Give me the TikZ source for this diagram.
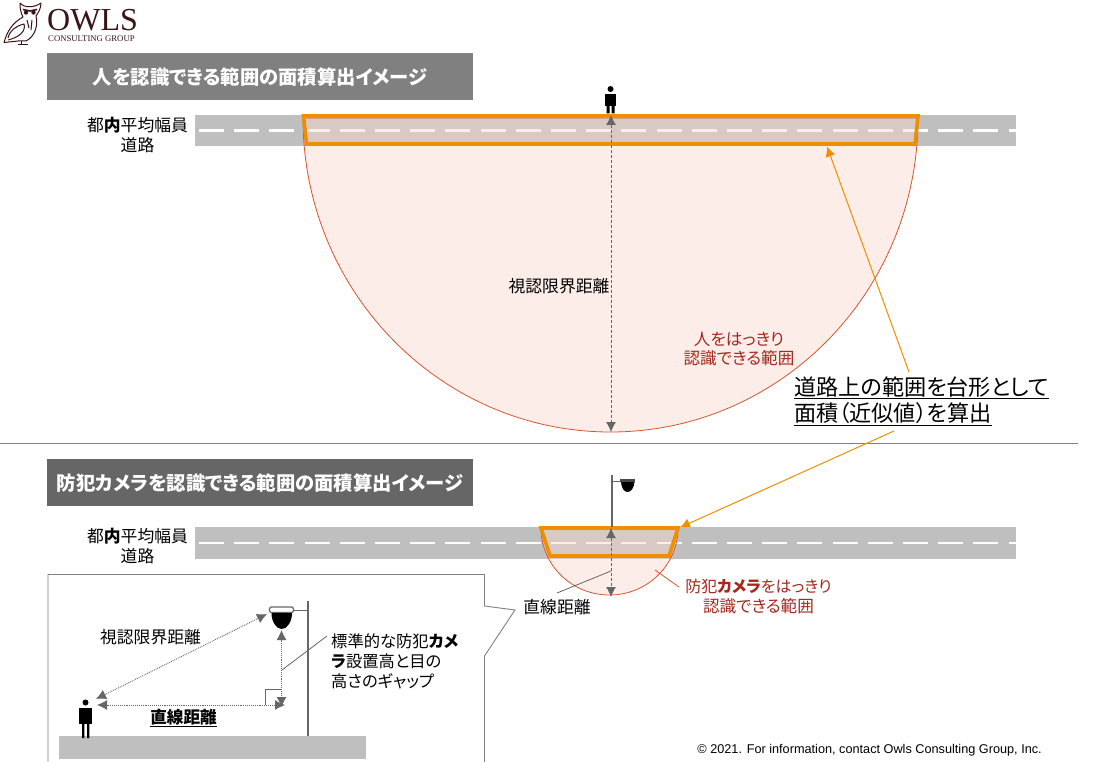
\documentclass[tikz,border=0pt]{standalone}
\usepackage{fontspec}
\setmainfont[RawFeature=+palt]{Noto Sans CJK JP}
\newfontfamily\latinsans{Liberation Sans}
\newfontfamily\latinserif{Liberation Serif}
\usetikzlibrary{arrows.meta}
\definecolor{roadgray}{HTML}{BFBFBF}
\definecolor{orangeline}{HTML}{EE8F00}
\definecolor{redline}{HTML}{D9552E}
\definecolor{redtext}{HTML}{A5281F}
\definecolor{pink}{HTML}{FAD8CD}
\definecolor{arrowgray}{HTML}{666666}
\definecolor{owlbrown}{HTML}{3A1414}
\tikzset{
  road/.style={fill=roadgray,draw=none},
  lane/.style={draw=white,line width=2.5pt,dash pattern=on 25pt off 10.2pt},
  zone/.style={fill=pink,fill opacity=.44,draw=redline,line width=.8pt},
  trap/.style={draw=orangeline,line width=3.6pt,miter limit=6},
  titlebox/.style={inner sep=0pt,text=white,font=\fontsize{19.3}{22}\selectfont\bfseries,minimum width=426pt,minimum height=47pt},
  lbl/.style={inner sep=0pt,align=center,font=\fontsize{16.8}{19.5}\selectfont,text=black},
  redlbl/.style={inner sep=0pt,align=center,font=\fontsize{16.6}{19.5}\selectfont,text=redtext},
  dim/.style={draw=arrowgray,line width=.9pt,densely dashed,{Latex[length=10pt,width=10pt]}-{Latex[length=10pt,width=10pt]}},
  dot/.style={draw=arrowgray,line width=.9pt,densely dotted,{Latex[length=10pt,width=10pt]}-{Latex[length=10pt,width=10pt]}},
  lead/.style={draw=arrowgray,line width=.8pt},
  callarrow/.style={draw=orangeline,line width=1pt,-{Latex[length=10pt,width=10pt]}},
}
\begin{document}
\begin{tikzpicture}[x=1pt,y=-1pt]
\useasboundingbox (0,0) rectangle (1096,762);
\fill[white] (0,0) rectangle (1096,762);
% logo
\begin{scope}[draw=owlbrown,line width=1pt,line join=round]
  \draw (20,3) .. controls (24,8) and (34,8) .. (41,3) .. controls (41,9) and (38,13) .. (36,16)
     .. controls (38,24) and (36,36) .. (26,41) -- (18,41) -- (4,42.5) .. controls (7,32) and (12,23) .. (23,17)
     .. controls (21,13) and (20,9) .. (20,3) -- cycle;
  \draw (8,38) .. controls (10,30) and (16,26) .. (24,24) .. controls (26,31) and (20,37) .. (8,40);
  \draw (21,41) -- (21,44) (18,44.5) -- (28,44.5);
  \draw (27,20) -- (29,28) (32,20) -- (31,30);
  \draw[line width=1.6pt] (23,9.5) -- (30,11) -- (37,9.5);
  \fill[owlbrown] (26,12.5) circle (2.2) (33.5,12.5) circle (2.2);
\end{scope}
\node[anchor=west,inner sep=0pt,text=owlbrown,font=\latinserif\fontsize{32}{32}\selectfont] (logoname) at (47,20) {OWLS};
\node[anchor=west,inner sep=0pt,text=owlbrown,font=\latinserif\fontsize{8.7}{9}\selectfont] (logosub) at (48,38.5) {CONSULTING GROUP};
% titles
\node[titlebox,fill=black!50,anchor=north west] (title1) at (47,53) {人を認識できる範囲の面積算出イメージ};
\node[titlebox,fill=arrowgray,anchor=north west] (title2) at (47,459) {防犯カメラを認識できる範囲の面積算出イメージ};
% separator
\draw[black!50,line width=.8pt] (0,443.5) -- (1078,443.5);
% upper road
\fill[road] (195,115) rectangle (1016,146.5);
\draw[lane] (199,130.5) -- (1016,130.5);
\draw[zone] (303,118) arc[start angle=180,end angle=360,x radius=307.5,y radius=-314] -- cycle;
\draw[trap] (303.5,116) -- (918,116) -- (915,144) -- (306.5,144) -- cycle;
\node[lbl] (roadlbl1) at (137.5,135) {都{\bfseries 内}平均幅員\\道路};
\coordinate (ufoot) at (611,432);
\coordinate (utop) at (611,115);
\draw[dim] (utop) -- (ufoot);
\node[lbl] (vislbl) at (559,286) {視認限界距離};
\node[redlbl] (red1) at (739,349) {人をはっきり\\認識できる範囲};
% person top
\fill[black] (610.5,89) circle (3);
\fill[black] (605,94) rectangle (616,106);
\fill[black] (606.5,106) rectangle (609.5,113.5) (611.5,106) rectangle (614.5,113.5);
% callout
\node[inner sep=0pt,align=left,anchor=west,text=black,font=\fontsize{22.15}{26}\selectfont] (calc) at (794,401) {\underline{道路上の範囲を台形として}\\\underline{面積（近似値）を算出}};
\coordinate (calcA) at (909,372);
\coordinate (calcB) at (894,431);
\coordinate (trapA) at (827,146.5);
\coordinate (trapB) at (680,527.5);
\draw[callarrow] (calcA) -- (trapA);
\draw[callarrow] (calcB) -- (trapB);
% lower road
\fill[road] (195,527) rectangle (1016,559);
\draw[lane] (199,543) -- (1016,543);
\draw[zone] (541,528) arc[start angle=180,end angle=360,x radius=68.5,y radius=-67] -- cycle;
\draw[trap] (541,528) -- (678,528) -- (669,556) -- (550,556) -- cycle;
\node[lbl] (roadlbl2) at (137.5,546) {都{\bfseries 内}平均幅員\\道路};
% lower pole and camera
\draw[arrowgray,line width=1.6pt] (612,475) -- (612,527);
\draw[arrowgray,line width=.8pt] (612,481) -- (621,481);
\fill[arrowgray!70!black] (620,478.5) rectangle (635,482);
\fill[black] (621,482) -- (634.5,482) .. controls (634,488) and (631,492) .. (627.5,492) .. controls (624,492) and (621.5,488) .. (621,482) -- cycle;
\coordinate (ltop) at (611,528);
\coordinate (lfoot) at (611,597);
\draw[dim] (ltop) -- (lfoot);
\coordinate (distmark) at (611,571);
\node[lbl] (distlbl) at (557,607.5) {直線距離};
\draw[lead] (distmark) -- (557,593);
\node[redlbl] (red2) at (758.5,596.5) {\fontsize{16}{19.5}\selectfont 防犯{\bfseries カメラ}をはっきり\\\fontsize{16.6}{19.5}\selectfont 認識できる範囲};
\coordinate (redA) at (655,570);
\coordinate (redB) at (679,587);
\draw[redline,line width=.8pt] (redA) -- (redB);
% inset callout box
\draw[black!50,line width=.9pt] (48,765) -- (48,574.5) -- (484.5,574.5) -- (484.5,606) -- (515,610) -- (484.5,656) -- (484.5,765);
\fill[roadgray] (59,736) rectangle (366,759);
\draw[arrowgray,line width=1.4pt] (308,601) -- (308,736);
\draw[arrowgray,line width=.8pt] (293,610) -- (309,610);
\draw[arrowgray,fill=white,line width=1.2pt,rounded corners=1.5pt] (269.5,607) rectangle (293.5,612.5);
\fill[black] (271.5,613) -- (292,613) .. controls (292,622) and (287,629) .. (281.7,629) .. controls (276.5,629) and (271.5,622) .. (271.5,613) -- cycle;
% inset person
\fill[black] (85.5,702.5) circle (3);
\fill[black] (79,708) rectangle (92,724);
\fill[black] (82,724) rectangle (84.3,738) (87,724) rectangle (89.3,738);
% inset dims
\coordinate (eyeA) at (96,699);
\coordinate (camA) at (267,614);
\coordinate (eyeB) at (97,705);
\coordinate (baseB) at (285,705);
\coordinate (camC) at (281.5,630);
\coordinate (baseC) at (281.5,707);
\draw[dot] (eyeA) -- (camA);
\draw[dot] (eyeB) -- (baseB);
\draw[dot] (camC) -- (baseC);
\draw[lead] (265,705) -- (265,689) -- (281.5,689);
\coordinate (gapmark) at (282,670);
\coordinate (gapend) at (327,636);
\draw[lead] (gapmark) -- (gapend);
\node[lbl] (vis2) at (150.5,637) {視認限界距離};
\node[lbl,font=\fontsize{16.6}{19}\selectfont\bfseries] (dist2) at (183.5,718) {\underline{直線距離}};
\node[lbl,align=left,anchor=north west,font=\fontsize{16.3}{19.7}\selectfont] (gaplbl) at (331,634) {標準的な防犯{\bfseries カメ}\\{\bfseries ラ}設置高と目の\\高さのギャップ};
\node[anchor=east,inner sep=0pt,text=black,font=\latinsans\fontsize{12.7}{14}\selectfont] (copy) at (1042,750.5) {© 2021. For information, contact Owls Consulting Group, Inc.};
\end{tikzpicture}
\end{document}
